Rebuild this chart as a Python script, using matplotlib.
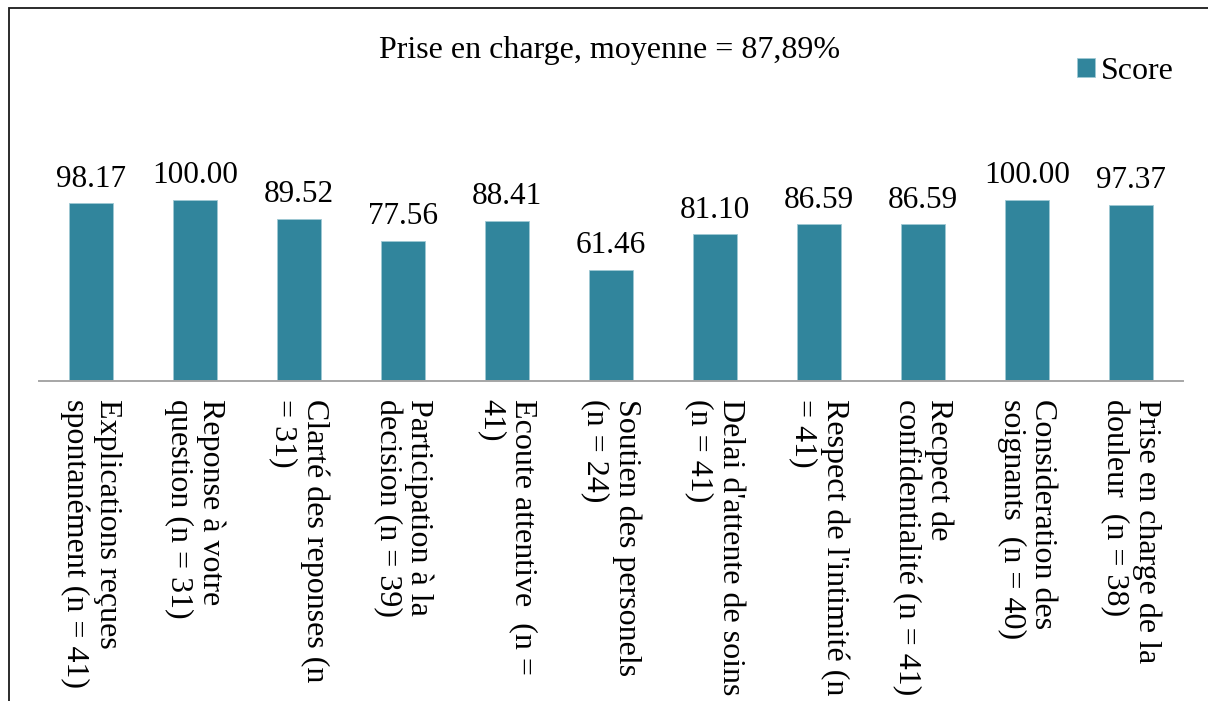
import matplotlib

matplotlib.use('Agg')

import matplotlib.pyplot as plt
from matplotlib.patches import Rectangle

plt.rcParams['font.family'] = ['Liberation Serif', 'DejaVu Serif']

categories = [
    "Explications reçues\nspontanément (n = 41)",
    "Reponse à votre\nquestion (n = 31)",
    "Clarté des reponses (n\n= 31)",
    "Participation à la\ndecision (n = 39)",
    "Ecoute attentive  (n =\n41)",
    "Soutien des personels\n(n = 24)",
    "Delai d'attente de soins\n(n = 41)",
    "Respect de l'intimité (n\n= 41)",
    "Recpect de\nconfidentialité (n = 41)",
    "Consideration des\nsoignants  (n = 40)",
    "Prise en charge de la\ndouleur  (n = 38)",
]
scores = [98.17, 100.00, 89.52, 77.56, 88.41, 61.46, 81.10, 86.59, 86.59, 100.00, 97.37]

title = "Prise en charge, moyenne = 87,89%"
bar_color = '#31859C'

fig = plt.figure(figsize=(12.08, 7.01), dpi=100)
ax = fig.add_axes([0.0323, 0.4565, 0.947, 0.3096])

x = list(range(len(scores)))
bars = ax.bar(x, scores, width=0.42, color=bar_color, edgecolor='#9fc9d4',
              linewidth=0.6, label='Score')

for xi, v in zip(x, scores):
    ax.annotate(f"{v:.2f}", (xi, v), xytext=(0, 7), textcoords='offset points',
                ha='center', va='bottom', fontsize=22.5)

ax.set_xlim(-0.5, len(scores) - 0.5)
ax.set_ylim(0, 120)
ax.set_xticks(x)
ax.set_xticklabels(categories, rotation=270, ha='center', va='top',
                   fontsize=23, linespacing=1.12, multialignment='left')
ax.tick_params(axis='x', length=0, pad=13)
ax.set_yticks([])
for side in ('left', 'right', 'top'):
    ax.spines[side].set_visible(False)
ax.spines['bottom'].set_color('#a6a6a6')
ax.spines['bottom'].set_linewidth(1.4)

fig.text(0.505, 0.928, title, ha='center', va='center', fontsize=23)

leg = fig.legend(handles=[bars], labels=['Score'], loc='center right',
                 bbox_to_anchor=(0.972, 0.898), frameon=False, fontsize=23,
                 handlelength=0.55, handleheight=0.55, handletextpad=0.2,
                 borderaxespad=0, borderpad=0)

# outer frame (only left and top edges visible in the crop)
fig.patches.append(Rectangle((9 / 1208, -0.1), 1.2, 1.1 - 8 / 701,
                             transform=fig.transFigure, fill=False,
                             edgecolor='#1a1a1a', linewidth=1.3))

fig.savefig('out.png', dpi=100)
